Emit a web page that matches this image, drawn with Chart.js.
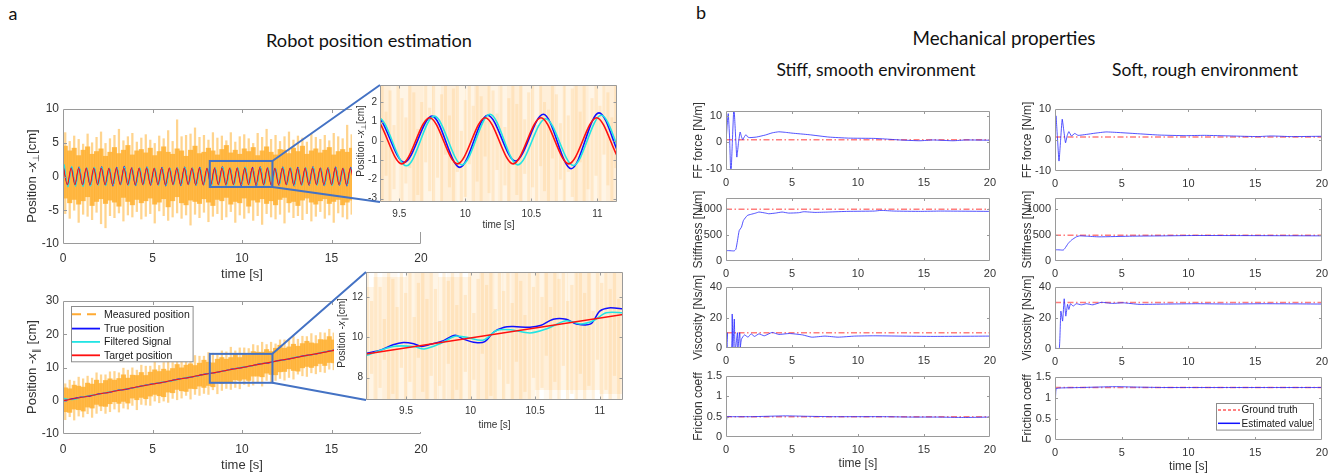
<!DOCTYPE html>
<html><head><meta charset="utf-8">
<script src="https://cdn.jsdelivr.net/npm/chart.js@4.4.1/dist/chart.umd.min.js"></script>
<style>
html,body{margin:0;padding:0;background:#fff}
body{position:relative;width:1342px;height:474px;overflow:hidden}
canvas{position:absolute}
.hd{position:absolute;font-family:Lato,'Open Sans',sans-serif;font-size:17px;color:#111;white-space:nowrap;transform:translate(-50%,-50%);line-height:1;z-index:5}
.yt{position:absolute;font-family:'Liberation Sans',Arial,sans-serif;color:#333;white-space:nowrap;transform:translate(-50%,-50%) rotate(-90deg);line-height:1;z-index:5}
.yt sub{font-size:72%;vertical-align:-0.3em}
</style></head><body>
<div class="hd" style="left:13px;top:13px;font-size:18px">a</div>
<div class="hd" style="left:701px;top:12px;font-size:18px">b</div>
<div class="hd" style="left:369px;top:40px;font-size:18.2px">Robot position estimation</div>
<div class="hd" style="left:1004px;top:38px;font-size:18.8px">Mechanical properties</div>
<div class="hd" style="left:876px;top:70px;font-size:17.5px">Stiff, smooth environment</div>
<div class="hd" style="left:1205px;top:70px;font-size:17.5px">Soft, rough environment</div>
<div class="yt" style="left:33px;top:176px;font-size:13px">Position -<i>x</i><sub>⊥</sub>[cm]</div>
<div class="yt" style="left:33px;top:367px;font-size:13px">Position -<i>x</i><sub>∥</sub> [cm]</div>
<div class="yt" style="left:362px;top:141px;font-size:10px">Position -<i>x</i><sub>⊥</sub>[cm]</div>
<div class="yt" style="left:343px;top:333px;font-size:10px">Position -<i>x</i><sub>∥</sub>[cm]</div>
<script>
// ================= DATA: panel a =================
const timeTicks = [0, 5, 10, 15, 20];
const a1YTicks = [-10, -5, 0, 5, 10];
const a2YTicks = [-10, 0, 10, 20, 30];
const insetXTicks = [9.5, 10, 10.5, 11];
const inset1YTicks = [-3, -2, -1, 0, 1, 2];
const inset2YTicks = [8, 10, 12];

// oscillating test (x_perp): extrema of each signal, one per half period
const extStart = 0.033, extHalfPeriod = 0.2108;
const trueLag = 0.018, filtLag = 0.035;
const targetExt = [1.2,-1.2,1.2,-1.2,1.2,-1.2,1.2,-1.2,1.2,-1.2, 1.2,-1.2,1.2,-1.2,1.2,-1.2,1.2,-1.2,1.2,-1.2,
  1.2,-1.2,1.2,-1.2,1.2,-1.2,1.2,-1.2,1.2,-1.2, 1.2,-1.2,1.2,-1.2,1.2,-1.2,1.2,-1.2,1.2,-1.2,
  1.2,-1.2,1.2,-1.2,1.2,-1.2,1.2,-1.2,1.2,-1.2, 1.2,-1.2,1.2,-1.2,1.2,-1.2,1.2,-1.2,1.2,-1.2,
  1.2,-1.2,1.2,-1.2,1.2,-1.2,1.2,-1.2,1.2,-1.2, 1.2,-1.2,1.2,-1.2,1.2,-1.2,1.2,-1.2];
const trueExt = [1.3,-1.25,1.35,-1.2,1.4,-1.3,1.25,-1.35,1.3,-1.15, 1.45,-1.3,1.2,-1.4,1.35,-1.2,1.5,-1.25,1.3,-1.35,
  1.25,-1.2,1.4,-1.3,1.2,-1.25,1.35,-1.4,1.25,-1.2, 1.3,-1.35,1.4,-1.15,1.25,-1.3,1.35,-1.25,1.2,-1.4,
  1.3,-1.2,1.45,-1.3,1.25,-1.12,1.28,-1.38,1.33,-1.05, 1.38,-1.45,1.45,-1.25,1.3,-1.35,1.2,-1.3,1.4,-1.2,
  1.25,-1.4,1.35,-1.25,1.3,-1.3,1.45,-1.2,1.25,-1.35, 1.3,-1.25,1.4,-1.3,1.2,-1.4,1.35,-1.25];
const filtExt = [1.8,-1.55,1.5,-1.45,1.35,-1.5,1.3,-1.4,1.35,-1.3, 1.4,-1.35,1.25,-1.3,1.3,-1.25,1.4,-1.3,1.2,-1.3,
  1.3,-1.25,1.35,-1.2,1.25,-1.3,1.3,-1.35,1.2,-1.25, 1.3,-1.3,1.35,-1.2,1.25,-1.3,1.3,-1.2,1.25,-1.35,
  1.3,-1.25,1.35,-1.3,1.2,-1.3,1.28,-1.25,1.38,-1.25, 1.15,-1.28,1.33,-1.3,1.25,-1.3,1.2,-1.25,1.35,-1.2,
  1.3,-1.35,1.25,-1.3,1.3,-1.2,1.35,-1.3,1.2,-1.3, 1.25,-1.35,1.3,-1.25,1.2,-1.3,1.3,-1.3];

// measured position (noisy) read as envelopes per 0.25 s bin
const binWidth = 0.25, binFirst = 0.125;
const topCoreHi = [4.5,3.8,4.2,3.1,3.9,4.4,3.3,3.7,4.1,3.0, 3.6,4.3,3.4,3.9,4.6,3.2,3.8,4.0,3.5,4.2,
  3.1,3.7,4.4,3.6,3.3,4.1,3.8,3.0,3.9,4.5, 3.4,3.6,4.2,3.8,3.2,4.0,4.6,3.5,3.9,3.3,
  4.1,3.7,4.3,3.1,3.8,4.4,3.6,3.2,4.0,3.9, 3.4,4.2,3.7,4.5,3.3,3.8,4.1,3.5,3.9,4.3, 3.2,3.7,4.0,3.6,4.2,3.4];
const topCoreLo = [-3.2,-3.9,-3.4,-4.1,-3.6,-3.0,-4.3,-3.7,-3.3,-4.0, -3.5,-3.8,-4.4,-3.1,-3.7,-4.2,-3.4,-3.9,-3.6,-3.2,
  -4.1,-3.8,-3.3,-4.5,-3.6,-3.0,-3.9,-4.2,-3.5,-3.7, -4.0,-3.3,-3.8,-4.3,-3.4,-3.6,-3.1,-4.1,-3.7,-3.9,
  -3.2,-4.4,-3.5,-3.8,-3.3,-4.0,-3.6,-4.2,-3.4,-3.1, -3.9,-3.7,-4.3,-3.5,-3.2,-3.8,-4.1,-3.6,-3.3,-4.0, -3.7,-3.4,-4.2,-3.8,-3.5,-3.9];
const topStreakHi = [6.5,5.2,6.0,5.5,4.8,6.3,5.0,5.8,6.6,4.9, 5.6,6.1,7.0,5.3,5.9,6.4,5.1,5.7,6.2,5.4,
  4.9,6.0,5.6,6.8,5.2,8.4,5.9,6.1,6.3,7.2, 5.8,6.1,5.4,6.5,5.7,6.0,5.3,6.5,5.1,5.9,
  6.2,5.6,4.9,6.4,5.8,7.0,5.5,6.1,5.2,5.9, 6.6,5.4,6.0,5.7,5.1,6.3,5.8,5.5,6.1,5.3, 6.4,5.9,5.6,7.6,6.2,5.7];
const topStreakLo = [-5.5,-6.2,-5.0,-6.8,-5.6,-5.9,-6.4,-5.3,-7.0,-7.6, -5.8,-6.1,-5.4,-6.6,-5.7,-6.0,-5.2,-6.3,-5.9,-5.5,
  -6.9,-5.1,-5.8,-6.5,-6.0,-5.4,-6.2,-5.7,-7.2,-5.6, -6.1,-5.3,-6.7,-5.9,-5.5,-6.4,-6.0,-5.2,-6.8,-5.7,
  -6.2,-5.4,-6.5,-5.8,-7.1,-5.5,-6.0,-6.3,-5.6,-6.9, -5.3,-6.1,-5.8,-6.4,-5.5,-6.6,-5.9,-5.2,-6.2,-5.7, -6.8,-5.4,-6.0,-6.3,-5.6,-6.1];

// ramp test (x_par)
const botCoreHi = [3.9,3.6,4.7,4.4,4.1,5.3,5.0,6.2,5.2,6.1, 6.6,6.2,6.7,7.8,6.8,7.7,7.6,8.5,7.6,8.6,
  9.3,8.8,9.5,9.0,9.7,10.9,9.9,10.7,11.1,10.6, 11.3,12.2,11.6,11.4,12.5,13.0,12.5,13.0,14.0,13.0,
  13.9,13.7,14.8,14.6,14.6,15.4,14.8,15.8,16.7,15.8, 16.2,17.0,16.4,17.2,17.9,17.4,17.2,18.4,18.3,19.3, 18.3,19.3];
const botCoreLo = [-3.3,-3.5,-2.5,-2.7,-3.1,-1.9,-2.2,-1.1,-1.6,-1.7, -0.9,-0.3,-0.8,-0.2,-0.7,0.8,0.3,1.0,0.6,1.4,
  1.9,1.5,1.2,2.6,2.4,3.4,3.0,2.8,3.7,3.6, 4.4,4.0,4.6,4.2,5.5,5.2,5.7,5.4,6.3,6.1,
  6.5,6.1,7.4,7.4,7.2,8.3,7.9,7.8,8.7,8.8, 9.6,9.1,8.9,9.9,10.3,10.0,10.5,11.2,10.6,11.5, 11.4,11.9];
const botStreakHi = [5.1,6.2,5.9,7.1,6.6,7.4,6.8,8.4,7.8,7.8, 8.7,8.8,8.4,9.8,9.2,9.9,9.2,10.7,10.4,10.4,
  11.7,10.6,11.5,12.0,11.5,13.2,12.3,12.9,12.4,13.6, 13.4,13.4,14.5,14.3,13.8,15.0,14.7,16.1,15.0,15.9,
  15.9,15.7,16.9,16.6,17.6,16.9,17.6,17.1,18.3,18.3, 18.2,19.3,18.5,19.4,19.3,20.2,19.6,20.5,20.4,21.5, 20.4,21.3];
const botStreakLo = [-5.7,-4.8,-5.8,-4.6,-4.9,-3.9,-5.0,-3.8,-3.0,-3.8, -3.3,-2.5,-3.4,-2.2,-2.5,-1.4,-2.7,-1.1,-1.3,-1.4,
  -0.1,-0.6,-0.1,-0.5,0.7,0.3,0.8,1.6,0.5,1.9, 1.6,2.2,1.9,3.3,2.1,3.1,3.7,3.4,4.0,3.6,
  4.9,4.3,4.7,5.4,4.4,6.1,5.6,6.1,6.7,6.2, 7.0,6.5,8.0,7.5,7.3,8.4,8.1,8.7,8.5,9.5, 9.3,9.2];
const botLineT = [0,0.5,1,1.5,2,2.5,3,3.5,4,4.5,5,5.5,6,6.5,7,7.5,8,8.5,9,9.5,10,10.5,11,11.5,12,12.5,13,13.5,14,14.5,15,15.3];
const botTrue = [0.0,0.6,1.1,1.4,2.1,2.4,3.1,3.4,4.0,4.6,5.1,5.4,6.0,6.6,6.9,7.5,8.1,8.4,9.0,9.6,9.9,10.5,11.1,11.4,12.1,12.4,13.0,13.6,13.9,14.5,15.1,15.4];
const botFilt = [0.8,0.3,1.0,1.6,1.9,2.6,3.0,3.6,3.9,4.5,5.0,5.6,5.9,6.5,7.1,7.4,8.0,8.5,9.0,9.5,10.1,10.4,11.0,11.5,11.9,12.5,13.1,13.4,14.0,14.6,15.0,15.3];
const botTargetT = [0, 15.3];
const botTarget = [0, 15.3];

// inset details
const ins2TrueT = [9.19,9.3,9.4,9.48,9.56,9.62,9.69,9.79,9.88,9.95,10.04,10.11,10.18,10.26,10.33,10.46,10.54,10.64,10.74,10.82,10.93,11.0,11.07,11.19];
const ins2True = [9.2,9.36,9.63,9.74,9.68,9.55,9.66,9.84,10.11,9.9,9.74,9.79,10.27,10.51,10.54,10.51,10.59,10.91,10.91,10.67,10.67,11.31,11.47,11.42];
const ins2FiltT = [9.19,9.4,9.56,9.64,9.77,9.88,9.97,10.1,10.2,10.31,10.46,10.59,10.74,10.85,10.95,11.05,11.19];
const ins2Filt = [9.1,9.55,9.55,9.42,9.71,10.06,10.0,9.87,10.35,10.38,10.22,10.43,10.83,10.67,10.83,11.23,11.23];
const ins2TargetT = [9.19, 11.19];
const ins2Target = [9.17, 11.15];
const ins1FineStart = 9.37, ins1FineStep = 0.03;
const ins1FineHi = [2.9,1.5,2.6,0.8,2.9,2.2,1.2,2.9,2.5,0.6, 2.0,2.9,1.7,2.9,0.9,2.4,2.9,1.3,2.7,2.9,
  0.5,2.1,2.9,1.8,2.9,2.3,1.0,2.9,2.6,1.4, 2.9,0.7,2.2,2.9,1.9,2.9,1.1,2.5,2.9,0.8,
  2.9,2.0,1.6,2.9,2.4,0.9,2.9,1.3,2.7,2.9, 1.5,2.9,0.6,2.2,2.9,1.8,2.9,2.5,1.2,2.9];
const ins1FineLo = [-3.2,-1.8,-3.2,-2.5,-0.9,-3.2,-2.2,-1.4,-3.2,-2.8, -3.2,-1.1,-2.6,-3.2,-1.9,-3.2,-0.7,-2.4,-3.2,-1.6,
  -3.2,-2.9,-1.2,-3.2,-2.1,-3.2,-0.8,-2.7,-3.2,-1.5, -3.2,-2.3,-3.2,-1.0,-2.8,-3.2,-1.7,-3.2,-2.4,-3.2,
  -1.3,-2.6,-3.2,-0.9,-3.2,-2.0,-3.2,-1.6,-2.9,-3.2, -1.1,-3.2,-2.5,-3.2,-1.8,-3.2,-0.7,-2.3,-3.2,-1.4];
const ins2FineStart = 9.2, ins2FineStep = 0.033;
const ins2FineHi = [13.3,11.8,13.3,12.5,10.9,13.3,12.9,11.5,13.3,12.2, 13.3,11.0,12.7,13.3,11.9,13.3,12.4,10.8,13.3,12.8,
  13.3,11.6,13.3,12.1,13.3,11.2,12.9,13.3,12.6,13.3, 11.4,13.3,12.3,13.3,11.7,13.3,12.8,11.1,13.3,12.5,
  13.3,12.0,13.3,11.5,13.3,12.9,13.3,11.8,12.6,13.3, 13.3,12.2,13.3,11.3,13.3,12.7,13.3,12.4,13.3,11.9];
const ins2FineLo = [6.9,8.2,6.9,7.5,8.9,6.9,7.2,6.9,8.5,6.9, 7.8,6.9,9.0,7.3,6.9,8.1,6.9,7.6,6.9,8.7,
  6.9,7.4,6.9,8.3,6.9,7.9,6.9,9.2,6.9,7.1, 6.9,8.4,6.9,7.7,6.9,8.8,6.9,7.3,6.9,8.0,
  6.9,7.5,9.1,6.9,7.8,6.9,8.6,6.9,7.2,6.9, 8.2,6.9,7.6,6.9,8.9,6.9,7.4,6.9,8.1,6.9];
const zoomTop = {t: [8.2, 11.7], y: [-1.55, 2.3]};
const zoomBot = {t: [8.2, 11.7], y: [5.4, 14.1]};

// ================= DATA: panel b =================
const ffTicksL = [-10, 0, 10], ffTicksR = [-10, 0, 10];
const stiffTicks = [0, 500, 1000], viscTicks = [0, 20, 40], fricTicks = [0, 0.5, 1, 1.5];
const gtTime = [0, 20];
const gtFF = [1, 1], gtStiffL = [1000, 1000], gtStiffR = [500, 500];
const gtViscL = [10, 10], gtViscR = [30, 30], gtFricL = [0.5, 0.5], gtFricR = [1.25, 1.25];
const ffL_t = [0,0.08,0.17,0.27,0.37,0.48,0.6,0.71,0.82,0.95,1.07,1.17,1.27,1.4,1.52,1.65,1.8,2.3,3.0,3.5,4.0,4.5,5.0,6.3,7.8,9.3,11.2,12.0,13.2,14.7,15.7,17.2,18.2,20];
const ffL_v = [0,6,10.9,2,-13,0,13.5,4,-5.6,0,3.9,2.2,1.0,2.2,2.9,2.0,1.8,2.0,2.8,3.6,4.0,3.8,3.5,2.9,2.0,1.6,1.5,1.3,0.9,0.6,0.9,0.6,0.9,0.8];
const ffR_t = [0,0.07,0.18,0.3,0.42,0.54,0.66,0.79,0.92,1.04,1.23,1.48,1.73,2.35,3.0,3.83,4.8,6.3,7.8,9.75,11.2,13.2,15.2,16.2,17.7,20];
const ffR_v = [0,7.8,1,-6.8,0,6.7,3,-0.9,1.5,2.7,1.3,2.1,1.5,1.8,2.2,2.6,2.4,2.0,1.6,1.4,1.5,1.3,1.1,1.3,1.1,1.2];
const stL_t = [0,0.01,0.62,0.75,0.87,1.0,1.17,1.32,1.62,1.87,2.25,2.5,3.0,3.25,3.75,4.25,4.75,5.5,5.9,6.75,7.75,9.25,11.25,11.75,12.75,14.75,16.25,20];
const stL_v = [0,196,196,229,392,588,654,784,882,902,928,948,928,915,928,948,928,935,954,941,948,961,967,980,967,961,967,961];
const stR_t = [0,0.01,0.62,0.74,0.99,1.23,1.6,1.85,2.35,3.3,5.8,8.3,10.7,20];
const stR_v = [0,212,212,244,340,404,468,487,481,468,481,487,494,487];
const viL_t = [0,0.01,0.1,0.11,0.42,0.47,0.52,0.63,0.68,0.73,0.86,0.88,0.9,1.03,1.05,1.08,1.17,1.4,1.67,1.9,2.16,2.5,2.9,3.5,4.0,4.8,5.8,6.5,7.5,8.5,9.75,11.2,13.2,15.7,20];
const viL_v = [0,0,10,0,0,22.3,0,19,0,0,10,10,0,10,10,0,5.8,8.6,7.1,9.3,7.6,9.3,8.0,10.2,8.9,9.5,8.6,7.1,7.8,7.1,7.8,8.0,7.8,7.6,7.8];
const viR_t = [0,0.07,0.32,0.44,0.57,0.69,0.81,0.94,1.04,1.16,1.36,1.6,1.98,2.35,2.84,3.46,4.3,5.1,6.3,8.3,10.7,13.2,15.7,20];
const viR_v = [10,0,0,24.4,18,32.4,21.2,28.8,25.5,29.2,27.7,29.2,28.5,29.2,28.5,30.1,29.4,29.8,28.8,29.0,29.2,29.0,29.2,29.0];
const frL_t = [0,0.1,0.5,2,4.5,6,8,10,12,14,16,18,20];
const frL_v = [0.3,0.5,0.5,0.5,0.52,0.51,0.5,0.5,0.5,0.49,0.49,0.48,0.49];
const frR_t = [0,0.08,0.5,2,4.5,6,8,10,13,16,20];
const frR_v = [0.3,1.22,1.24,1.25,1.27,1.26,1.25,1.25,1.25,1.25,1.25];

// ================= RENDERING =================
const TICK_COLOR = '#333333', FRAME_COLOR = '#9a9a9a', FONT = "'Liberation Sans', Arial, sans-serif";
const RED = '#ff1010', BLUE = '#1010ff', CYAN = '#22e4e4';

Chart.register({
  id: 'frame',
  beforeDraw(c, a, o) {
    if (o.bg) { const x = c.ctx; x.save(); x.fillStyle = o.bg; x.fillRect(0, 0, c.width, c.height); x.restore(); }
  },
  afterDatasetsDraw(c, a, o) {
    if (!o.len) return;
    const ctx = c.ctx, ca = c.chartArea, sx = c.scales.x, sy = c.scales.y;
    ctx.save();
    const L = Math.round(ca.left) + 0.5, T = Math.round(ca.top) + 0.5, R = Math.round(ca.right) - 0.5, B = Math.round(ca.bottom) - 0.5;
    ctx.strokeStyle = FRAME_COLOR; ctx.lineWidth = 1; ctx.setLineDash([]);
    ctx.beginPath();
    ctx.rect(L, T, R - L, B - T);
    sx.ticks.forEach(t => { const p = Math.round(sx.getPixelForValue(t.value)) + 0.5; if (p < L + 1 || p > R - 1) return;
      ctx.moveTo(p, B); ctx.lineTo(p, B - o.len); ctx.moveTo(p, T); ctx.lineTo(p, T + o.len); });
    sy.ticks.forEach(t => { const p = Math.round(sy.getPixelForValue(t.value)) + 0.5; if (p < T + 1 || p > B - 1) return;
      ctx.moveTo(L, p); ctx.lineTo(L + o.len, p); ctx.moveTo(R, p); ctx.lineTo(R - o.len, p); });
    ctx.stroke();
    if (o.zoom) {
      const z = o.zoom;
      const x0 = sx.getPixelForValue(z.t[0]), x1 = sx.getPixelForValue(z.t[1]);
      const y0 = sy.getPixelForValue(z.y[0]), y1 = sy.getPixelForValue(z.y[1]);
      ctx.strokeStyle = '#4472C4'; ctx.lineWidth = 2; ctx.strokeRect(x0, y1, x1 - x0, y0 - y1);
    }
    if (o.legend) {
      const g = o.legend;
      const bx = Math.round(ca.left + g.x) + 0.5, by = Math.round(ca.top + g.y) + 0.5;
      ctx.fillStyle = '#fff'; ctx.fillRect(bx, by, g.w, g.h);
      ctx.strokeStyle = '#8c8c8c'; ctx.lineWidth = 1; ctx.strokeRect(bx, by, g.w, g.h);
      ctx.font = g.size + 'px ' + FONT; ctx.textBaseline = 'middle'; ctx.textAlign = 'left';
      g.items.forEach(it => {
        const y = ca.top + it.dy;
        ctx.strokeStyle = it.color; ctx.lineWidth = it.w; ctx.setLineDash(it.dash || []);
        ctx.beginPath(); ctx.moveTo(ca.left + g.l0, y); ctx.lineTo(ca.left + g.l1, y); ctx.stroke();
        ctx.setLineDash([]); ctx.fillStyle = '#1a1a1a'; ctx.fillText(it.text, ca.left + g.tx, y + 0.5);
      });
    }
    ctx.restore();
  }
});

const fmt = v => String(Math.round(v * 1000) / 1000);
function mk(cv, box, o) {
  const el = document.createElement('canvas');
  const W = cv.r - cv.l, H = cv.b - cv.t;
  el.width = W; el.height = H;
  el.style.left = cv.l + 'px'; el.style.top = cv.t + 'px'; el.style.width = W + 'px'; el.style.height = H + 'px';
  document.body.appendChild(el);
  const lh = o.titleSize * 1.2;
  return new Chart(el.getContext('2d'), {
    type: 'line',
    data: {datasets: o.datasets},
    options: {
      responsive: false, animation: false, devicePixelRatio: 1, events: [],
      layout: {padding: {left: 0, top: box.t - cv.t, right: cv.r - box.r, bottom: 0}},
      plugins: {legend: {display: false}, tooltip: {enabled: false}, frame: o.frame},
      scales: {
        x: {type: 'linear', min: o.xr[0], max: o.xr[1], offset: false,
          afterFit(s) { s.height = cv.b - box.b; },
          afterBuildTicks(s) { s.ticks = o.xt.map(v => ({value: v})); },
          grid: {display: false, drawTicks: false}, border: {display: false},
          ticks: {autoSkip: false, maxRotation: 0, minRotation: 0, padding: o.xpad, color: TICK_COLOR, font: {family: FONT, size: o.tickSize}, callback: fmt},
          title: {display: !!o.xtitle, text: o.xtitle || '', color: TICK_COLOR, font: {family: FONT, size: o.titleSize},
                  padding: {top: 0, bottom: o.xtitle ? cv.b - o.xty - lh / 2 : 0}}},
        y: {type: 'linear', min: o.yr[0], max: o.yr[1],
          afterFit(s) { s.width = box.l - cv.l; },
          afterBuildTicks(s) { s.ticks = o.yt.map(v => ({value: v})); },
          grid: {display: false, drawTicks: false}, border: {display: false},
          ticks: {autoSkip: false, padding: o.ypad, color: TICK_COLOR, font: {family: FONT, size: o.tickSize}, callback: fmt},
          title: {display: !!o.ytitle, text: o.ytitle || '', color: TICK_COLOR, font: {family: FONT, size: o.titleSize},
                  padding: {top: o.ytitle ? o.ytx - cv.l - lh / 2 : 0, bottom: 0}}}
      }
    }
  });
}

const pts = (xs, ys, dx) => xs.map((x, i) => ({x: x + (dx || 0), y: ys[i]}));
const lineDS = (xs, ys, color, w, order, extra) => Object.assign({type: 'line', data: pts(xs, ys), borderColor: color, borderWidth: w,
  pointRadius: 0, fill: false, order: order, tension: 0}, extra || {});
const barDS = (xs, lo, hi, color, thick, order) => ({type: 'bar', data: xs.map((x, i) => ({x: x, y: [lo[i], hi[i]]})),
  backgroundColor: color, borderWidth: 0, barThickness: thick, grouped: false, order: order});
const grid = (start, step, n) => Array.from({length: n}, (_, i) => +(start + i * step).toFixed(4));

const extT = grid(extStart, extHalfPeriod, targetExt.length);
const extTrueT = extT.map(t => t + trueLag), extFiltT = extT.map(t => t + filtLag);
const topBinT = grid(binFirst, binWidth, topCoreHi.length);
const botBinT = grid(binFirst, binWidth, botCoreHi.length);
const ins1FineT = grid(ins1FineStart, ins1FineStep, ins1FineHi.length);
const ins2FineT = grid(ins2FineStart, ins2FineStep, ins2FineHi.length);
const MONO = {cubicInterpolationMode: 'monotone'};
const OR_CORE = 'rgba(255,172,38,0.82)', OR_STREAK = 'rgba(255,176,50,0.55)';

// ---- a, top main ----
const boxA1 = {l: 63, t: 109, r: 421, b: 244};
const ppsA1 = (boxA1.r - boxA1.l) / 20;
const chA1 = mk({l: 0, t: 95, r: 440, b: 285}, boxA1, {
  datasets: [
    lineDS(extT, targetExt, RED, 1.1, 1, MONO),
    lineDS(extFiltT, filtExt, CYAN, 1.2, 2, MONO),
    lineDS(extTrueT, trueExt, BLUE, 1.1, 3, MONO),
    barDS(topBinT, topCoreLo, topCoreHi, OR_CORE, ppsA1 * binWidth, 11),
    barDS(topBinT, topStreakLo, topStreakHi, OR_STREAK, 1.6, 10)],
  xr: [0, 20], xt: timeTicks, yr: [-10, 10], yt: a1YTicks,
  xtitle: 'time [s]', xty: 274, tickSize: 12, titleSize: 13, xpad: 7, ypad: 4,
  frame: {len: 3.5, zoom: zoomTop}
});

// ---- a, bottom main ----
const boxA2 = {l: 63, t: 301, r: 421, b: 434};
const chA2 = mk({l: 0, t: 288, r: 440, b: 474}, boxA2, {
  datasets: [
    lineDS(botTargetT, botTarget, RED, 1.1, 1),
    lineDS(botLineT, botFilt, CYAN, 1.2, 2, {tension: 0.3}),
    lineDS(botLineT, botTrue, BLUE, 1.1, 3, {tension: 0.3}),
    barDS(botBinT, botCoreLo, botCoreHi, OR_CORE, ppsA1 * binWidth, 11),
    barDS(botBinT, botStreakLo, botStreakHi, OR_STREAK, 1.6, 10)],
  xr: [0, 20], xt: timeTicks, yr: [-10, 30], yt: a2YTicks,
  xtitle: 'time [s]', xty: 465, tickSize: 12, titleSize: 13, xpad: 8, ypad: 4,
  frame: {len: 3.5, zoom: zoomBot, legend: {x: 7.7, y: 5, w: 121.6, h: 55.3, size: 10.5, l0: 9, l1: 37, tx: 41,
    items: [
      {text: 'Measured position', color: '#ffaa33', w: 2, dash: [9, 6], dy: 13.3},
      {text: 'True position', color: BLUE, w: 1.8, dy: 27.6},
      {text: 'Filtered Signal', color: CYAN, w: 1.8, dy: 40.9},
      {text: 'Target position', color: RED, w: 1.8, dy: 54.3}]}}
});

// ---- a, top inset ----
const IN_CORE = 'rgba(255,185,80,0.14)', IN_STREAK = 'rgba(255,175,60,0.07)', IN_FINE = 'rgba(255,172,55,0.17)';
const boxI1 = {l: 380, t: 80, r: 617, b: 202};
const xrI1 = [9.354, 11.149];
const ppsI1 = (boxI1.r - boxI1.l) / (xrI1[1] - xrI1[0]);
const chI1 = mk({l: 352, t: 76, r: 628, b: 232}, boxI1, {
  datasets: [
    lineDS(extT, targetExt, RED, 1.6, 1, MONO),
    lineDS(extFiltT, filtExt, CYAN, 1.6, 2, MONO),
    lineDS(extTrueT, trueExt, BLUE, 1.6, 3, MONO),
    barDS(topBinT, topCoreLo, topCoreHi, IN_CORE, ppsI1 * binWidth, 12),
    barDS(topBinT, topStreakLo, topStreakHi, IN_STREAK, ppsI1 * binWidth * 0.45, 11),
    barDS(ins1FineT, ins1FineLo, ins1FineHi, IN_FINE, ppsI1 * ins1FineStep * 0.6, 10)],
  xr: xrI1, xt: insetXTicks, yr: [-3.18, 2.9], yt: inset1YTicks,
  xtitle: 'time [s]', xty: 225, tickSize: 10, titleSize: 10, xpad: 6, ypad: 3,
  frame: {len: 3, bg: '#ffffff'}
});

// ---- a, bottom inset ----
const boxI2 = {l: 366, t: 267, r: 623, b: 400};
const xrI2 = [9.19, 11.18];
const ppsI2 = (boxI2.r - boxI2.l) / (xrI2[1] - xrI2[0]);
const chI2 = mk({l: 334, t: 263, r: 630, b: 432}, boxI2, {
  datasets: [
    lineDS(ins2TargetT, ins2Target, RED, 1.6, 1),
    lineDS(ins2FiltT, ins2Filt, CYAN, 1.6, 2, {tension: 0.3}),
    lineDS(ins2TrueT, ins2True, BLUE, 1.5, 3, {tension: 0.3}),
    barDS(botBinT, botCoreLo, botCoreHi, IN_CORE, ppsI2 * binWidth, 12),
    barDS(botBinT, botStreakLo, botStreakHi, IN_STREAK, ppsI2 * binWidth * 0.45, 11),
    barDS(ins2FineT, ins2FineLo, ins2FineHi, IN_FINE, ppsI2 * ins2FineStep * 0.6, 10)],
  xr: xrI2, xt: insetXTicks, yr: [6.88, 13.26], yt: inset2YTicks,
  xtitle: 'time [s]', xty: 425.7, tickSize: 10, titleSize: 10, xpad: 5.5, ypad: 3,
  frame: {len: 3, bg: '#ffffff'}
});

// ---- b ----
const EST = 'rgba(35,35,255,0.78)', GT = 'rgba(255,70,70,0.7)', GT_DASH = [6, 2.5, 1.5, 2.5];
const colL = {l: 684, r: 1002, pl: 726, pr: 994, ytx: 699, xty: 464};
const colR = {l: 1012, r: 1334, pl: 1055, pr: 1325, ytx: 1028, xty: 466.7};
const rowsL = [{t: 111, b: 170}, {t: 197.5, b: 260.5}, {t: 287, b: 348}, {t: 376, b: 437}];
const rowsR = [{t: 109, b: 171}, {t: 197.5, b: 261}, {t: 287, b: 349}, {t: 377, b: 440}];
function bplot(col, row, last, est_t, est_v, gt_v, yr, yt, ytitle, legend) {
  return mk({l: col.l, t: row.t - 24, r: col.r, b: last ? 474 : row.b + 24}, {l: col.pl, t: row.t, r: col.pr, b: row.b}, {
    datasets: [
      lineDS(est_t, est_v, EST, 1, 1, {tension: 0.15}),
      lineDS(gtTime, gt_v, GT, 1.5, 2, {borderDash: GT_DASH})],
    xr: [0, 20], xt: timeTicks, yr: yr, yt: yt,
    xtitle: last ? 'time [s]' : null, xty: col.xty, ytitle: ytitle, ytx: col.ytx,
    tickSize: 11, titleSize: 12, xpad: 6, ypad: 4,
    frame: {len: 2.5, legend: legend}
  });
}
bplot(colL, rowsL[0], false, ffL_t, ffL_v, gtFF, [-10.5, 11.9], ffTicksL, 'FF force [N/m]');
bplot(colL, rowsL[1], false, stL_t, stL_v, gtStiffL, [0, 1220], stiffTicks, 'Stiffness [N/m]');
bplot(colL, rowsL[2], false, viL_t, viL_v, gtViscL, [0, 40], viscTicks, 'Viscosity [Ns/m]');
bplot(colL, rowsL[3], true, frL_t, frL_v, gtFricL, [0, 1.5], fricTicks, 'Friction coeff');
bplot(colR, rowsR[0], false, ffR_t, ffR_v, gtFF, [-10, 10], ffTicksR, 'FF force [N/m]');
bplot(colR, rowsR[1], false, stR_t, stR_v, gtStiffR, [0, 1220], stiffTicks, 'Stiffness [N/m]');
bplot(colR, rowsR[2], false, viR_t, viR_v, gtViscR, [0, 40], viscTicks, 'Viscosity [Ns/m]');
bplot(colR, rowsR[3], true, frR_t, frR_v, gtFricR, [0, 1.5], fricTicks, 'Friction coeff',
  {x: 161, y: 25.7, w: 97, h: 26.6, size: 10, l0: 163, l1: 185, tx: 186.5,
   items: [{text: 'Ground truth', color: 'rgba(255,60,60,0.85)', w: 1.5, dash: [3, 2], dy: 33},
           {text: 'Estimated value', color: BLUE, w: 1.5, dy: 46.3}]});

// ---- zoom connectors (overlay) ----
const ovEl = document.createElement('canvas');
ovEl.width = 1342; ovEl.height = 474;
Object.assign(ovEl.style, {left: '0px', top: '0px', width: '1342px', height: '474px', zIndex: 6, pointerEvents: 'none'});
document.body.appendChild(ovEl);
const ov = ovEl.getContext('2d');
ov.strokeStyle = '#4472C4'; ov.lineWidth = 2;
const pg = (ch, x, y) => [parseFloat(ch.canvas.style.left) + x, parseFloat(ch.canvas.style.top) + y];
function connect(main, inset, z) {
  const sx = main.scales.x, sy = main.scales.y;
  const xr = sx.getPixelForValue(z.t[1]);
  const a = pg(main, xr, sy.getPixelForValue(z.y[1])), b = pg(main, xr, sy.getPixelForValue(z.y[0]));
  const ca = inset.chartArea;
  const c = pg(inset, ca.left, ca.top), d = pg(inset, ca.left, ca.bottom);
  ov.beginPath(); ov.moveTo(a[0], a[1]); ov.lineTo(c[0], c[1]); ov.moveTo(b[0], b[1]); ov.lineTo(d[0], d[1]); ov.stroke();
}
connect(chA1, chI1, zoomTop);
connect(chA2, chI2, zoomBot);
</script>
</body></html>
